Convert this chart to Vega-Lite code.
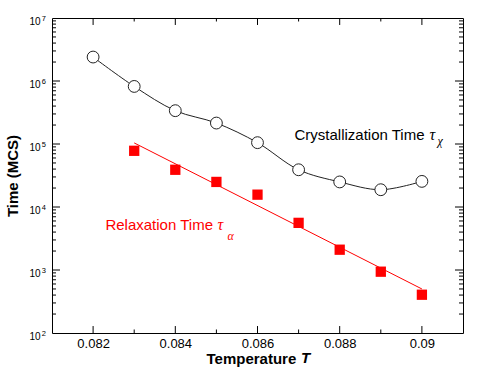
{
  "$schema": "https://vega.github.io/schema/vega-lite/v6.json",
  "width": 411,
  "height": 315,
  "autosize": {"type": "none"},
  "padding": {"left": 52, "top": 18, "right": 17, "bottom": 38},
  "config": {
    "view": {"stroke": "black", "strokeWidth": 1},
    "font": "Liberation Sans",
    "axis": {
      "domainColor": "black",
      "tickColor": "black",
      "labelColor": "black",
      "titleColor": "black",
      "grid": false,
      "labelFont": "Liberation Sans",
      "titleFont": "Liberation Sans"
    }
  },
  "datasets": {
    "cryst": [
      {"T": 0.082, "time": 2400000},
      {"T": 0.083, "time": 820000},
      {"T": 0.084, "time": 338000},
      {"T": 0.085, "time": 215000},
      {"T": 0.086, "time": 105000},
      {"T": 0.087, "time": 39000},
      {"T": 0.088, "time": 25000},
      {"T": 0.089, "time": 18800},
      {"T": 0.090, "time": 25500}
    ],
    "relax": [
      {"T": 0.083, "time": 78000},
      {"T": 0.084, "time": 39000},
      {"T": 0.085, "time": 25000},
      {"T": 0.086, "time": 15700},
      {"T": 0.087, "time": 5600},
      {"T": 0.088, "time": 2100},
      {"T": 0.089, "time": 940},
      {"T": 0.090, "time": 405}
    ],
    "fit": [
      {"T": 0.083, "time": 104000},
      {"T": 0.090, "time": 500}
    ],
    "labels": [
      {"T": 0.0869, "time": 117000, "text": "Crystallization Time", "series": "cryst", "part": "name"},
      {"T": 0.090185, "time": 117000, "text": "τ", "series": "cryst", "part": "greek"},
      {"T": 0.09038, "time": 97500, "text": "χ", "series": "cryst", "part": "sub"},
      {"T": 0.0823, "time": 4365, "text": "Relaxation Time", "series": "relax", "part": "name"},
      {"T": 0.085027, "time": 4365, "text": "τ", "series": "relax", "part": "greek"},
      {"T": 0.08527, "time": 3027, "text": "α", "series": "relax", "part": "sub"}
    ],
    "xtitle": [
      {"T": 0.08706, "time": 34, "text": "T"}
    ],
    "xmajor": [{"T": 0.082}, {"T": 0.084}, {"T": 0.086}, {"T": 0.088}, {"T": 0.090}],
    "xminor": [{"T": 0.083}, {"T": 0.085}, {"T": 0.087}, {"T": 0.089}],
    "ymajor": [{"time": 1000}, {"time": 10000}, {"time": 100000}, {"time": 1000000}],
    "yminor": [
      {"time": 200}, {"time": 300}, {"time": 400}, {"time": 500}, {"time": 600}, {"time": 700}, {"time": 800}, {"time": 900},
      {"time": 2000}, {"time": 3000}, {"time": 4000}, {"time": 5000}, {"time": 6000}, {"time": 7000}, {"time": 8000}, {"time": 9000},
      {"time": 20000}, {"time": 30000}, {"time": 40000}, {"time": 50000}, {"time": 60000}, {"time": 70000}, {"time": 80000}, {"time": 90000},
      {"time": 200000}, {"time": 300000}, {"time": 400000}, {"time": 500000}, {"time": 600000}, {"time": 700000}, {"time": 800000}, {"time": 900000},
      {"time": 2000000}, {"time": 3000000}, {"time": 4000000}, {"time": 5000000}, {"time": 6000000}, {"time": 7000000}, {"time": 8000000}, {"time": 9000000}
    ]
  },
  "layer": [
    {
      "data": {"name": "fit"},
      "mark": {"type": "line", "color": "#ff0000", "strokeWidth": 1},
      "encoding": {
        "x": {
          "field": "T", "type": "quantitative",
          "scale": {"domain": [0.081, 0.091], "nice": false, "zero": false},
          "axis": {
            "orient": "bottom",
            "values": [0.082, 0.084, 0.086, 0.088, 0.090],
            "format": "~g",
            "ticks": false,
            "domain": false,
            "labelFontSize": 13,
            "labelPadding": 4,
            "title": "Temperature",
            "titleFontSize": 15,
            "titleFontWeight": "bold",
            "titleAlign": "left",
            "titleBaseline": "alphabetic",
            "titleX": 154,
            "titleY": 30
          }
        },
        "y": {
          "field": "time", "type": "quantitative",
          "scale": {"type": "log", "domain": [100, 10000000], "nice": false},
          "axis": {
            "orient": "left",
            "values": [100, 1000, 10000, 100000, 1000000, 10000000],
            "labelExpr": "'10'",
            "ticks": false,
            "domain": false,
            "labelFontSize": 10,
            "labelPadding": 12,
            "labelOffset": 3,
            "title": "Time (MCS)",
            "titleFontSize": 15,
            "titleFontWeight": "bold",
            "titlePadding": 8
          }
        }
      }
    },
    {
      "data": {"name": "cryst"},
      "mark": {"type": "line", "color": "#222222", "strokeWidth": 1, "interpolate": "catmull-rom"},
      "encoding": {
        "x": {"field": "T", "type": "quantitative", "axis": null},
        "y": {
          "field": "time", "type": "quantitative",
          "axis": {
            "orient": "left",
            "values": [100, 1000, 10000, 100000, 1000000, 10000000],
            "labelExpr": "'' + round(log(datum.value)/LN10)",
            "ticks": false,
            "domain": false,
            "labelFontSize": 7.5,
            "labelPadding": 6.5,
            "labelOffset": 0,
            "title": null
          }
        }
      }
    },
    {
      "data": {"name": "cryst"},
      "mark": {"type": "point", "shape": "circle", "filled": true, "fill": "white", "stroke": "#222222", "strokeWidth": 1, "size": 140, "opacity": 1},
      "encoding": {
        "x": {"field": "T", "type": "quantitative", "axis": null},
        "y": {"field": "time", "type": "quantitative", "axis": null}
      }
    },
    {
      "data": {"name": "relax"},
      "mark": {"type": "point", "shape": "square", "filled": true, "color": "#ff0000", "size": 106, "opacity": 1},
      "encoding": {
        "x": {"field": "T", "type": "quantitative", "axis": null},
        "y": {"field": "time", "type": "quantitative", "axis": null}
      }
    },
    {
      "data": {"name": "labels"},
      "transform": [{"filter": "datum.part == 'name'"}],
      "mark": {"type": "text", "align": "left", "baseline": "alphabetic", "fontSize": 15, "font": "Liberation Sans"},
      "encoding": {
        "x": {"field": "T", "type": "quantitative", "axis": null},
        "y": {"field": "time", "type": "quantitative", "axis": null},
        "text": {"field": "text"},
        "color": {"field": "series", "type": "nominal", "scale": {"domain": ["cryst", "relax"], "range": ["black", "#ff0000"]}, "legend": null}
      }
    },
    {
      "data": {"name": "labels"},
      "transform": [{"filter": "datum.part == 'greek'"}],
      "mark": {"type": "text", "align": "left", "baseline": "alphabetic", "fontSize": 16, "font": "Liberation Serif", "fontStyle": "italic"},
      "encoding": {
        "x": {"field": "T", "type": "quantitative", "axis": null},
        "y": {"field": "time", "type": "quantitative", "axis": null},
        "text": {"field": "text"},
        "color": {"field": "series", "type": "nominal", "legend": null}
      }
    },
    {
      "data": {"name": "labels"},
      "transform": [{"filter": "datum.part == 'sub'"}],
      "mark": {"type": "text", "align": "left", "baseline": "alphabetic", "fontSize": 12, "font": "Liberation Serif", "fontStyle": "italic"},
      "encoding": {
        "x": {"field": "T", "type": "quantitative", "axis": null},
        "y": {"field": "time", "type": "quantitative", "axis": null},
        "text": {"field": "text"},
        "color": {"field": "series", "type": "nominal", "legend": null}
      }
    },
    {
      "data": {"name": "xtitle"},
      "mark": {"type": "text", "align": "left", "baseline": "alphabetic", "fontSize": 15, "font": "Liberation Sans", "fontWeight": "bold", "fontStyle": "italic", "color": "black"},
      "encoding": {
        "x": {"field": "T", "type": "quantitative", "axis": null},
        "y": {"field": "time", "type": "quantitative", "axis": null},
        "text": {"field": "text"}
      }
    },
    {
      "data": {"name": "xmajor"},
      "mark": {"type": "rule", "color": "black", "strokeWidth": 1, "opacity": 1},
      "encoding": {
        "x": {"field": "T", "type": "quantitative", "axis": null},
        "y": {"datum": 100, "type": "quantitative", "axis": null},
        "y2": {"datum": 129}
      }
    },
    {
      "data": {"name": "xmajor"},
      "mark": {"type": "rule", "color": "black", "strokeWidth": 1, "opacity": 1},
      "encoding": {
        "x": {"field": "T", "type": "quantitative", "axis": null},
        "y": {"datum": 10000000, "type": "quantitative", "axis": null},
        "y2": {"datum": 7750000}
      }
    },
    {
      "data": {"name": "xminor"},
      "mark": {"type": "rule", "color": "black", "strokeWidth": 1, "opacity": 1},
      "encoding": {
        "x": {"field": "T", "type": "quantitative", "axis": null},
        "y": {"datum": 100, "type": "quantitative", "axis": null},
        "y2": {"datum": 113.7}
      }
    },
    {
      "data": {"name": "xminor"},
      "mark": {"type": "rule", "color": "black", "strokeWidth": 1, "opacity": 1},
      "encoding": {
        "x": {"field": "T", "type": "quantitative", "axis": null},
        "y": {"datum": 10000000, "type": "quantitative", "axis": null},
        "y2": {"datum": 8800000}
      }
    },
    {
      "data": {"name": "ymajor"},
      "mark": {"type": "rule", "color": "black", "strokeWidth": 1, "opacity": 1},
      "encoding": {
        "y": {"field": "time", "type": "quantitative", "axis": null},
        "x": {"datum": 0.081, "type": "quantitative", "axis": null},
        "x2": {"datum": 0.081195}
      }
    },
    {
      "data": {"name": "ymajor"},
      "mark": {"type": "rule", "color": "black", "strokeWidth": 1, "opacity": 1},
      "encoding": {
        "y": {"field": "time", "type": "quantitative", "axis": null},
        "x": {"datum": 0.091, "type": "quantitative", "axis": null},
        "x2": {"datum": 0.090805}
      }
    },
    {
      "data": {"name": "yminor"},
      "mark": {"type": "rule", "color": "black", "strokeWidth": 1, "opacity": 1},
      "encoding": {
        "y": {"field": "time", "type": "quantitative", "axis": null},
        "x": {"datum": 0.081, "type": "quantitative", "axis": null},
        "x2": {"datum": 0.081097}
      }
    },
    {
      "data": {"name": "yminor"},
      "mark": {"type": "rule", "color": "black", "strokeWidth": 1, "opacity": 1},
      "encoding": {
        "y": {"field": "time", "type": "quantitative", "axis": null},
        "x": {"datum": 0.091, "type": "quantitative", "axis": null},
        "x2": {"datum": 0.090903}
      }
    }
  ],
  "resolve": {"axis": {"x": "independent", "y": "independent"}}
}
